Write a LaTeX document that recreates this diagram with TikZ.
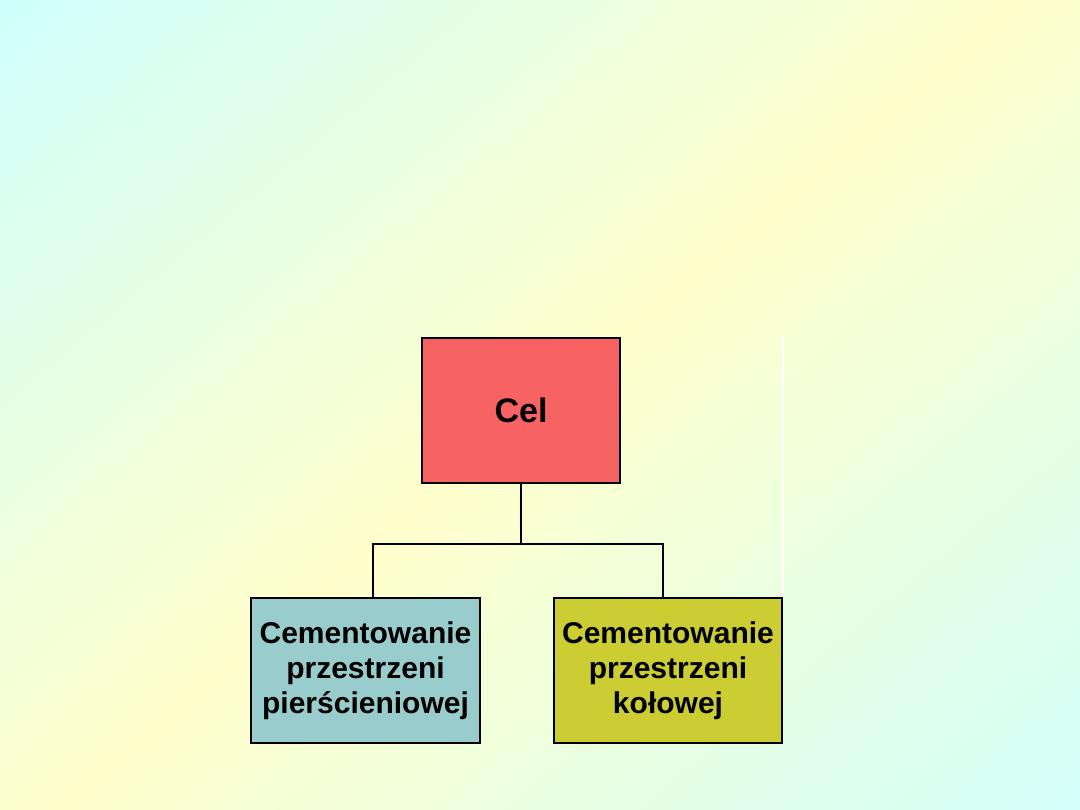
\documentclass[tikz,border=0pt]{standalone}
\usepackage{fontspec}
\setmainfont{Liberation Sans}
\definecolor{c1}{HTML}{CCFFFF}
\definecolor{c2}{HTML}{FFFFCC}
\definecolor{celc}{HTML}{F76262}
\definecolor{lc}{HTML}{99CCCC}
\definecolor{rc}{HTML}{CCCC33}
\pgfdeclarehorizontalshading{bgshade}{100bp}{color(0bp)=(c1);color(24bp)=(c1);color(50bp)=(c2);color(78bp)=(c1);color(100bp)=(c1)}
\begin{document}
\begin{tikzpicture}[x=1pt,y=-1pt,
  box/.style={draw=black,line width=1.5pt,minimum width=#1,minimum height=145pt,inner sep=0pt,align=center,font=\bfseries\fontsize{30}{35}\selectfont},
  conn/.style={line width=1.3pt}]
\useasboundingbox (0,0) rectangle (1080,810);
\shade[shading=bgshade,shading angle=-50] (-200,-200) rectangle (1280,1010);
\clip (0,0) rectangle (1080,810);
\node[box=198pt,fill=celc,font=\bfseries\fontsize{34}{40}\selectfont] (cel) at (521,410.5) {Cel};
\node[box=229pt,fill=lc] (l) at (365.5,670.5) {Cementowanie\\przestrzeni\\pierścieniowej};
\node[box=228pt,fill=rc] (r) at (668,670.5) {Cementowanie\\przestrzeni\\kołowej};
\coordinate (j) at (521,544);
\draw[conn] (cel.south) -- (j);
\draw[conn] (l.north -| 373,0) |- (j) -| (r.north -| 663,0);
\draw[white,line width=1.5pt] (r.north east) -- ++(0,-260);
\end{tikzpicture}
\end{document}
